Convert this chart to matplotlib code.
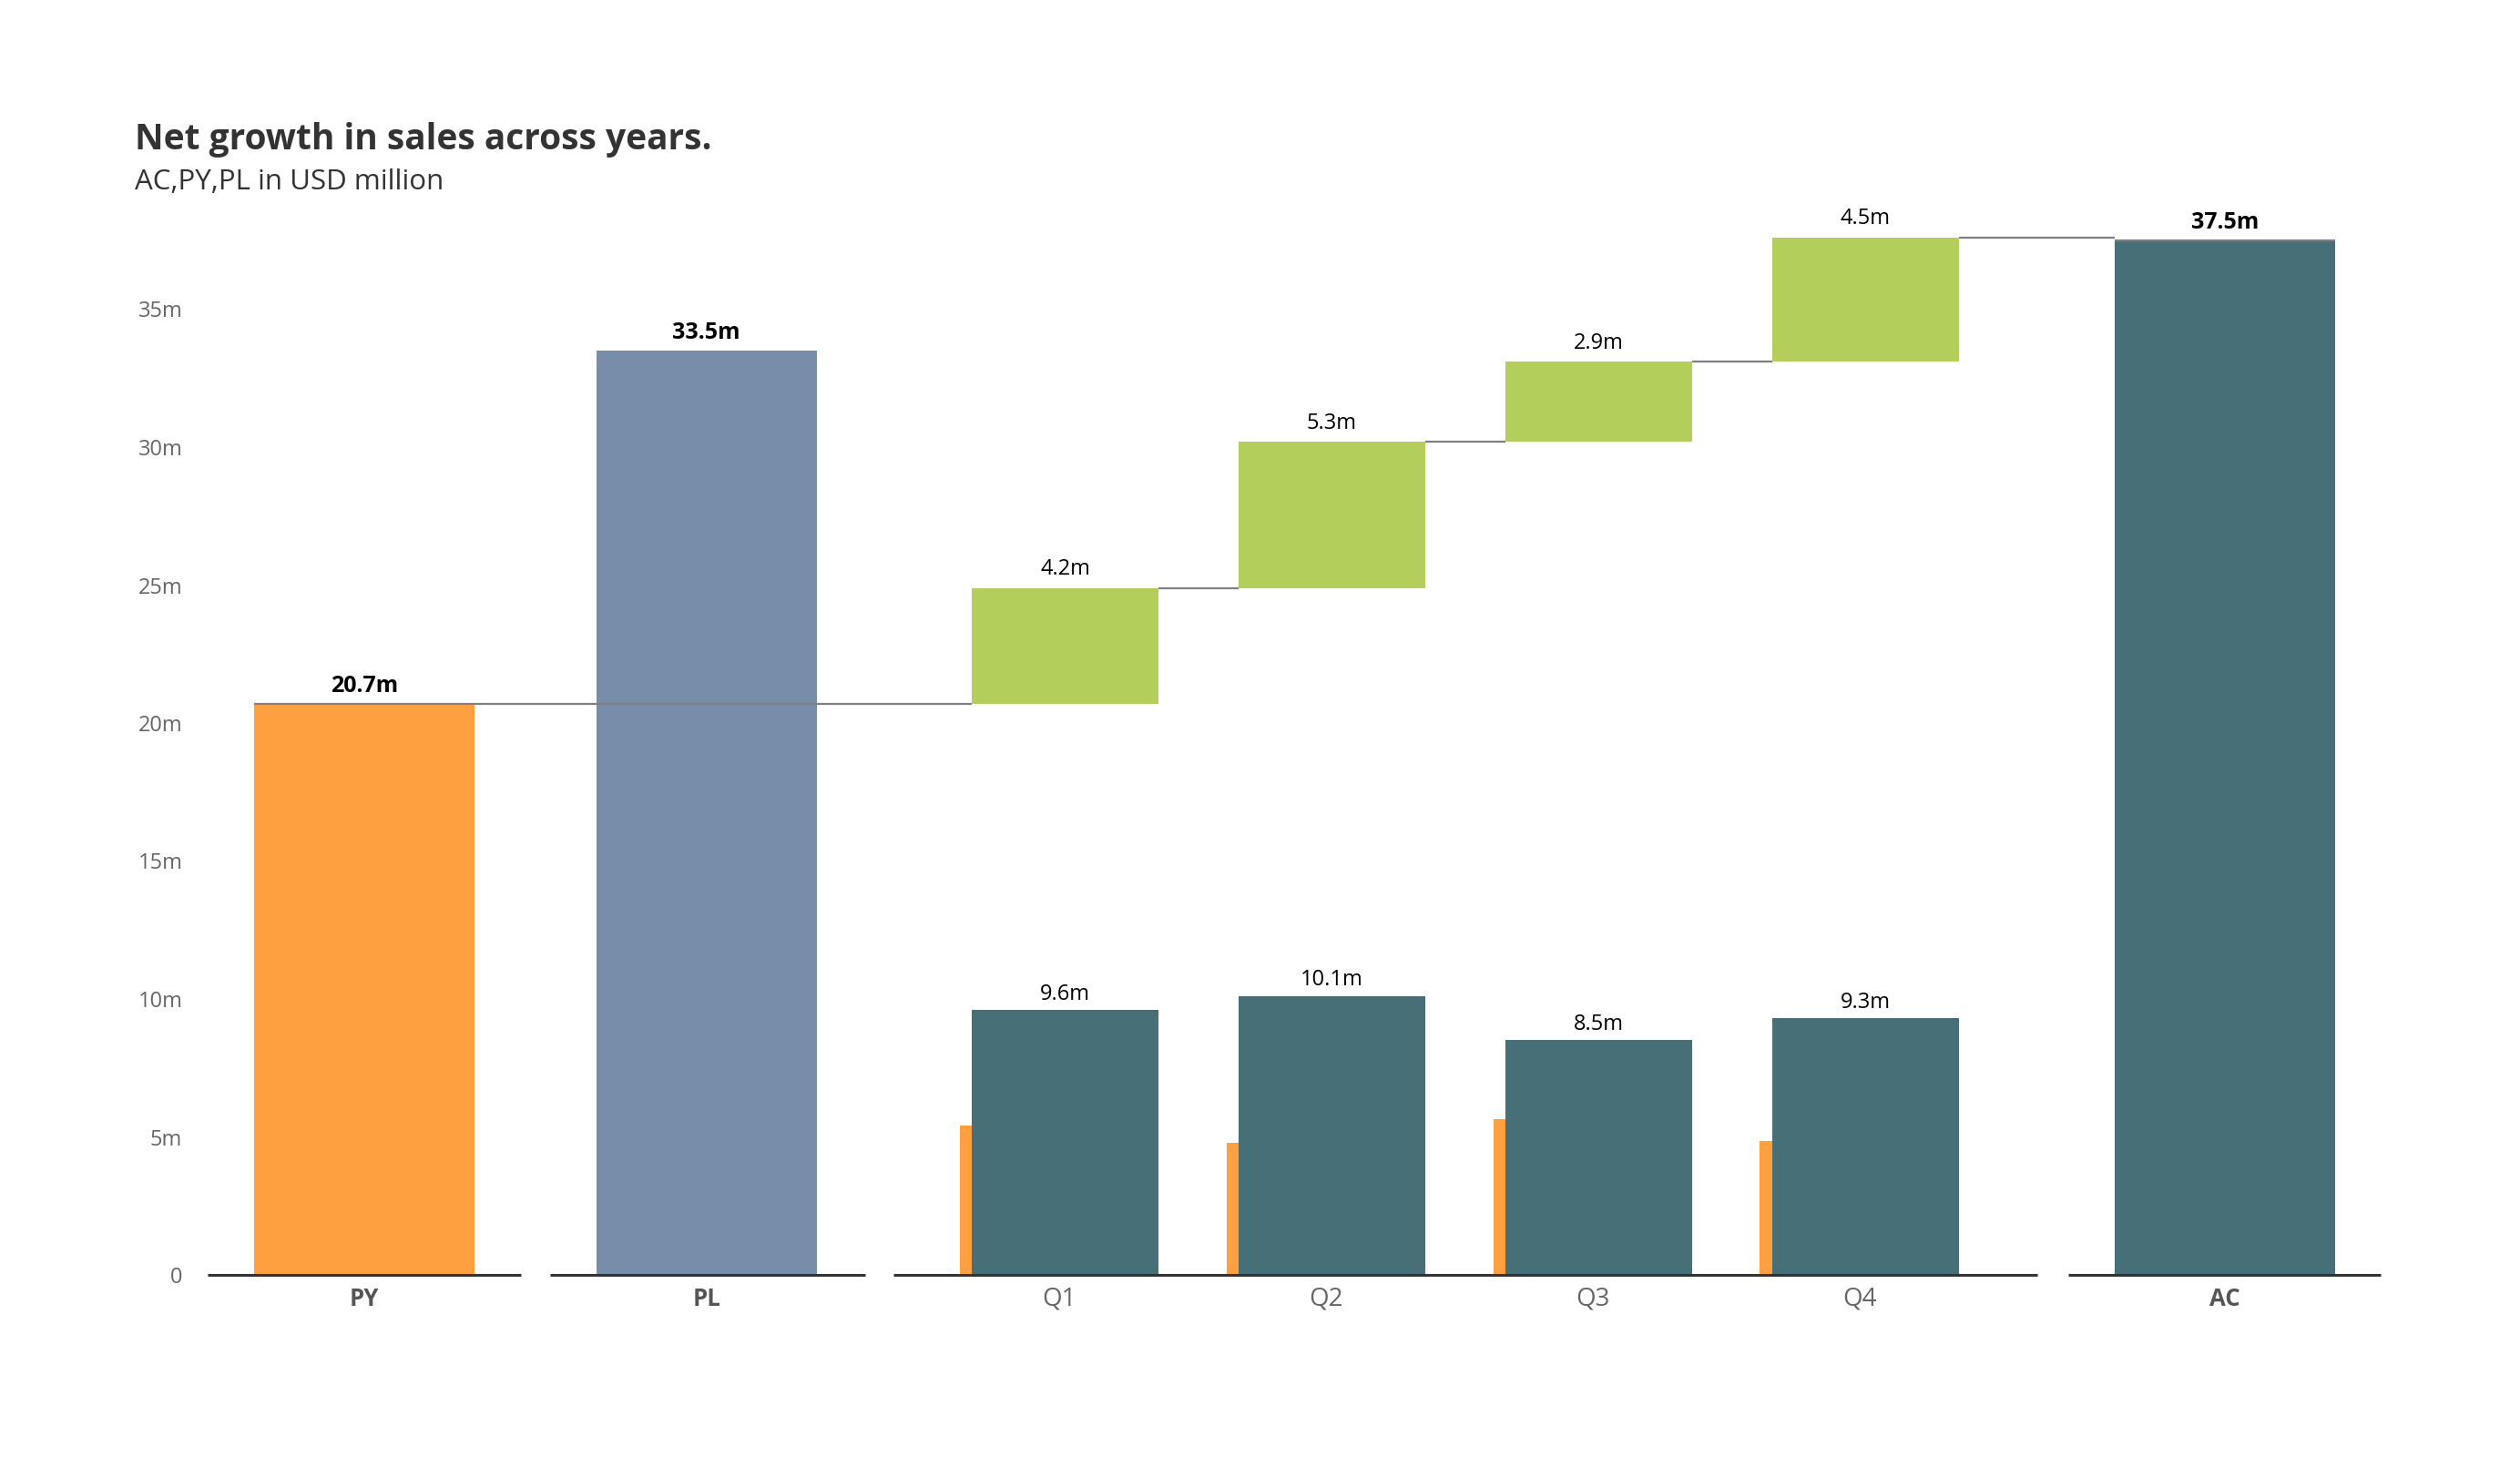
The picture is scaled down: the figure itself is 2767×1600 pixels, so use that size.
import matplotlib.pyplot as plt

plt.rcParams['font.family'] = ['Open Sans', 'DejaVu Sans']

# data (USD million)
py_total = 20.7
pl_total = 33.5
ac_total = 37.5
quarters = ['Q1', 'Q2', 'Q3', 'Q4']
delta = [4.2, 5.3, 2.9, 4.5]          # growth steps of the waterfall
ac_quarter = [9.6, 10.1, 8.5, 9.3]
py_quarter = [5.4, 4.8, 5.65, 4.85]
yticks = [0, 5, 10, 15, 20, 25, 30, 35]

# colours
c_py = '#FFA040'
c_pl = '#778DA9'
c_ac = '#466F78'
c_green = '#B3CE5B'
c_line = '#808080'

# layout (x in units of quarter spacing)
x_py, x_pl = 0.0, 1.283
x_q = [2.628 + i for i in range(4)]
x_ac = 6.976
w_tot = 0.826
w_q = 0.70
off = 0.045

fig = plt.figure(figsize=(27.67, 16), dpi=100)
ax = fig.add_axes([228 / 2767, 200 / 1600, (2614 - 228) / 2767, 1212 / 1600])

# totals
ax.bar(x_py, py_total, w_tot, color=c_py, zorder=2)
ax.bar(x_pl, pl_total, w_tot, color=c_pl, zorder=2)
ax.bar(x_ac, ac_total, w_tot, color=c_ac, zorder=2)

# quarterly AC vs PY
ax.bar([x - off for x in x_q], py_quarter, w_q, color=c_py, zorder=2)
ax.bar(x_q, ac_quarter, w_q, color=c_ac, zorder=3)

# waterfall steps
level = py_total
ax.hlines(py_total, x_py - w_tot / 2, x_q[0] - w_q / 2, color=c_line, lw=1.6, zorder=4)
for i, d in enumerate(delta):
    ax.bar(x_q[i], d, w_q, bottom=level, color=c_green, zorder=2)
    ax.annotate(f'{d:.1f}m', (x_q[i], level + d), xytext=(0, 6), textcoords='offset points',
                ha='center', va='bottom', fontsize=17, color='black')
    level += d
    if i < 3:
        ax.hlines(level, x_q[i] + w_q / 2, x_q[i + 1] - w_q / 2, color=c_line, lw=1.6, zorder=4)
    else:
        ax.hlines(level, x_q[i] + w_q / 2, x_ac - w_tot / 2, color=c_line, lw=1.6, zorder=4)
        ax.hlines(ac_total, x_ac - w_tot / 2, x_ac + w_tot / 2, color=c_line, lw=1.6, zorder=4)

for x, v in zip(x_q, ac_quarter):
    ax.annotate(f'{v:.1f}m', (x, v), xytext=(0, 4), textcoords='offset points',
                ha='center', va='bottom', fontsize=17, color='black')

for x, v in [(x_py, py_total), (x_pl, pl_total), (x_ac, ac_total)]:
    ax.annotate(f'{v:.1f}m', (x, v), xytext=(0, 5), textcoords='offset points',
                ha='center', va='bottom', fontsize=18, fontweight='bold', color='black')

# baseline segments per group
segs = [(x_py - 0.587, x_py + 0.587), (x_pl - 0.587, x_pl + 0.594),
        (x_q[0] - 0.645, x_q[-1] + 0.645), (x_ac - 0.587, x_ac + 0.584)]
for a, b in segs:
    ax.hlines(0, a, b, color='#333333', lw=2.2, zorder=5, clip_on=False)

ax.set_xlim(-0.587, 7.560)
ax.set_ylim(0, 40)
ax.set_yticks(yticks, ['0' if t == 0 else f'{t}m' for t in yticks])
ax.tick_params(axis='y', length=0, pad=20, labelsize=17, labelcolor='#666666')

xs = [x_py, x_pl] + [x - off / 2 for x in x_q] + [x_ac]
labels = ['PY', 'PL'] + quarters + ['AC']
ax.set_xticks(xs, labels)
ax.tick_params(axis='x', length=0, pad=9, labelsize=20, labelcolor='#666666')
for t in ax.get_xticklabels():
    if t.get_text() in ('PY', 'PL', 'AC'):
        t.set_fontweight('bold')
        t.set_color('#555555')
        t.set_fontsize(18.5)

for s in ax.spines.values():
    s.set_visible(False)

fig.text(148 / 2767, 1 - 164 / 1600, 'Net growth in sales across years.', fontsize=28,
         fontweight='bold', color='#333333', va='baseline')
fig.text(148 / 2767, 1 - 208 / 1600, 'AC,PY,PL in USD million', fontsize=22.5,
         color='#333333', va='baseline')

fig.savefig('out.png', dpi=100, facecolor='white')
